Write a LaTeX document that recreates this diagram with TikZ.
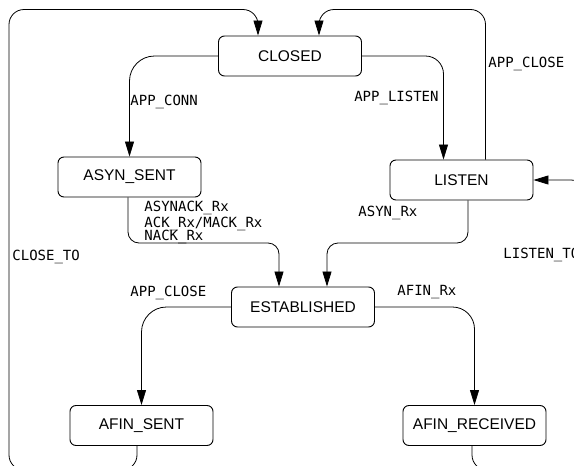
\documentclass[tikz,border=0pt]{standalone}
\usepackage{fontspec}
\setmainfont{Liberation Sans}
\newfontfamily\evfont{DejaVu Sans Mono}
\usetikzlibrary{arrows.meta}

\begin{document}
\begin{tikzpicture}[x=1pt, y=-1pt,
    state/.style={draw, rounded corners=6pt, line width=0.9pt, minimum width=143pt,
      minimum height=40pt, inner sep=0pt, font=\fontsize{15.5}{18}\selectfont},
    event/.style={anchor=west, inner sep=0pt, font=\evfont\fontsize{14}{16}\selectfont},
    >={Triangle[length=15pt,width=9pt]}, line width=0.8pt]
  \useasboundingbox (0,0) rectangle (574,466);
  \clip (0,0) rectangle (574,466);
  % states
  \node[state] (closed) at (290,56) {CLOSED};
  \node[state] (asynsent) at (129.5,177) {ASYN\_SENT};
  \node[state] (listen) at (461.5,180) {LISTEN};
  \node[state] (established) at (303,307) {ESTABLISHED};
  \node[state] (afinsent) at (141.5,425.5) {AFIN\_SENT};
  \node[state] (afinrecv) at (474.5,425.5) {AFIN\_RECEIVED};
  % rows and columns the loops run along
  \coordinate (toprow) at (0,9.5);
  \coordinate (midrow) at (0,243);
  \coordinate (botrow) at (0,470);
  \coordinate (leftcol) at (9,0);
  \coordinate (rightcol) at (586,0);
  \coordinate (cin1) at ([xshift=-32pt]closed.north);
  \coordinate (cin2) at ([xshift=29pt]closed.north);
  \coordinate (ein1) at ([xshift=-24pt]established.north);
  \coordinate (ein2) at ([xshift=24pt]established.north);
  \begin{scope}[->]
    \draw[rounded corners=25pt] (closed.west) -| (asynsent.north);
    \draw[rounded corners=18pt] (closed.east) -| ([xshift=-18pt]listen.north);
    \draw[rounded corners=15pt] ([xshift=24pt]listen.north) |- (cin2 |- toprow) -- (cin2);
    \draw[rounded corners=15pt] ([xshift=-4.5pt]afinsent.south) |- (leftcol |- botrow)
      |- (cin1 |- toprow) -- (cin1);
    \draw[rounded corners=15pt] ([xshift=-2.5pt]afinrecv.south) |- (rightcol |- botrow)
      |- (listen.east);
    \draw[rounded corners=11pt] ([xshift=-1.5pt]asynsent.south) |- (ein1 |- midrow) -- (ein1);
    \draw[rounded corners=11pt] ([xshift=6.5pt]listen.south) |- (ein2 |- midrow) -- (ein2);
    \draw[rounded corners=25pt] (established.west) -| (afinsent.north);
    \draw[rounded corners=22pt] (established.east) -| (afinrecv.north);
  \end{scope}
  % events
  \node[event] (appconn) at (130,102) {APP\_CONN};
  \node[event, anchor=east] (applisten) at (439,98) {APP\_LISTEN};
  \node[event] (appclose1) at (488,64) {APP\_CLOSE};
  \node[event] (asynack) at (144,207.5) {ASYNACK\_Rx};
  \node[event] (ackrx) at (144,223.5) {ACK\_Rx/MACK\_Rx};
  \node[event] (nackrx) at (144,236.5) {NACK\_Rx};
  \node[event] (asynrx) at (358,213) {ASYN\_Rx};
  \node[event] (closeto) at (12,257) {CLOSE\_TO};
  \node[event] (listento) at (503,255) {LISTEN\_TO};
  \node[event] (appclose2) at (130,293) {APP\_CLOSE};
  \node[event] (afinrx) at (397,292) {AFIN\_Rx};
\end{tikzpicture}
\end{document}
